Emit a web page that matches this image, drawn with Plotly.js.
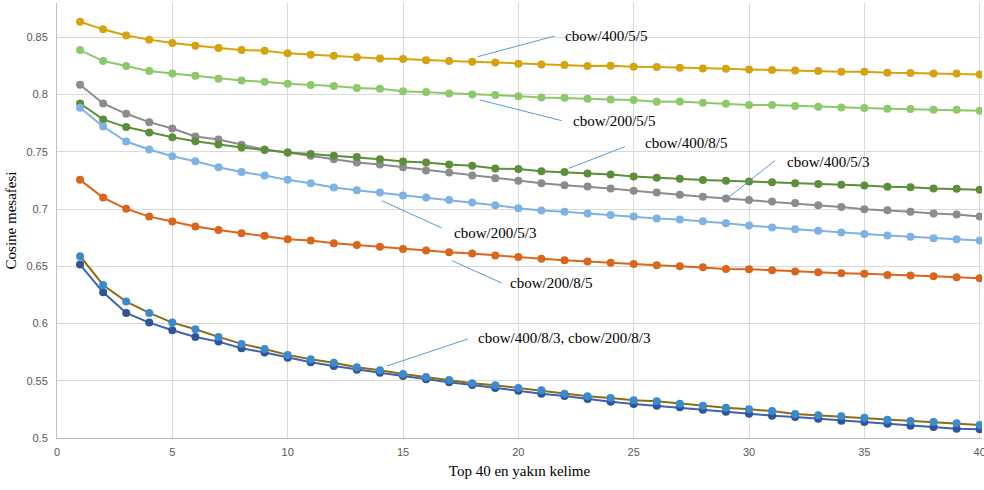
<!DOCTYPE html>
<html>
<head>
<meta charset="utf-8">
<script src="https://cdn.plot.ly/plotly-3.0.1.min.js"></script>
<style>html,body{margin:0;padding:0;background:#fff;}#chart{width:984px;height:490px;}</style>
</head>
<body>
<div id="chart"></div>
<script>
const ranks = Array.from({length: 40}, (_, i) => i + 1);

const cbow_400_5_5 = [0.8636,0.8570,0.8517,0.8480,0.8450,0.8427,0.8406,0.8390,0.8383,0.8360,0.8348,0.8340,0.8327,0.8316,0.8310,0.8300,0.8293,0.8287,0.8280,0.8270,0.8263,0.8258,0.8250,0.8252,0.8243,0.8241,0.8234,0.8228,0.8226,0.8220,0.8214,0.8211,0.8205,0.8200,0.8200,0.8190,0.8188,0.8185,0.8185,0.8176];
const cbow_200_5_5 = [0.8389,0.8293,0.8250,0.8205,0.8185,0.8164,0.8138,0.8123,0.8112,0.8094,0.8083,0.8074,0.8057,0.8051,0.8030,0.8022,0.8010,0.8000,0.7996,0.7986,0.7975,0.7972,0.7963,0.7957,0.7952,0.7937,0.7940,0.7928,0.7920,0.7908,0.7908,0.7900,0.7893,0.7887,0.7882,0.7876,0.7873,0.7867,0.7867,0.7858];
const cbow_400_5_3 = [0.8086,0.7922,0.7832,0.7759,0.7704,0.7634,0.7608,0.7561,0.7520,0.7494,0.7465,0.7436,0.7407,0.7389,0.7366,0.7337,0.7320,0.7293,0.7270,0.7247,0.7226,0.7209,0.7197,0.7180,0.7159,0.7144,0.7124,0.7107,0.7092,0.7078,0.7066,0.7052,0.7034,0.7017,0.6999,0.6990,0.6976,0.6961,0.6952,0.6934];
const cbow_400_8_5 = [0.7922,0.7783,0.7716,0.7669,0.7628,0.7593,0.7564,0.7538,0.7515,0.7494,0.7480,0.7465,0.7454,0.7436,0.7415,0.7407,0.7389,0.7378,0.7354,0.7349,0.7331,0.7323,0.7310,0.7302,0.7284,0.7273,0.7264,0.7253,0.7247,0.7241,0.7235,0.7226,0.7218,0.7212,0.7205,0.7194,0.7191,0.7180,0.7177,0.7168];
const cbow_200_5_3 = [0.7885,0.7721,0.7590,0.7520,0.7462,0.7418,0.7366,0.7323,0.7293,0.7255,0.7226,0.7188,0.7165,0.7144,0.7118,0.7100,0.7078,0.7057,0.7034,0.7008,0.6987,0.6976,0.6961,0.6949,0.6934,0.6917,0.6908,0.6894,0.6876,0.6856,0.6838,0.6824,0.6810,0.6795,0.6781,0.6769,0.6757,0.6746,0.6737,0.6725];
const cbow_200_8_5 = [0.7255,0.7100,0.7002,0.6934,0.6891,0.6847,0.6818,0.6789,0.6766,0.6737,0.6725,0.6702,0.6687,0.6670,0.6652,0.6637,0.6623,0.6611,0.6594,0.6582,0.6565,0.6553,0.6541,0.6530,0.6521,0.6510,0.6501,0.6492,0.6477,0.6475,0.6466,0.6454,0.6448,0.6440,0.6434,0.6425,0.6419,0.6413,0.6405,0.6396];
const cbow_400_8_3 = [0.6588,0.6337,0.6192,0.6093,0.6008,0.5950,0.5883,0.5822,0.5778,0.5726,0.5688,0.5658,0.5618,0.5592,0.5559,0.5533,0.5507,0.5478,0.5461,0.5437,0.5417,0.5387,0.5364,0.5350,0.5329,0.5320,0.5300,0.5282,0.5265,0.5251,0.5236,0.5210,0.5198,0.5190,0.5177,0.5160,0.5149,0.5140,0.5128,0.5114];
const cbow_200_8_3 = [0.6515,0.6273,0.6093,0.6008,0.5941,0.5883,0.5842,0.5784,0.5746,0.5702,0.5662,0.5629,0.5597,0.5571,0.5542,0.5513,0.5487,0.5463,0.5437,0.5413,0.5387,0.5367,0.5341,0.5317,0.5297,0.5282,0.5268,0.5247,0.5230,0.5212,0.5195,0.5184,0.5169,0.5151,0.5140,0.5125,0.5108,0.5096,0.5081,0.5076];

const seriesNames = ["cbow/400/5/5","cbow/200/5/5","cbow/400/5/3","cbow/400/8/5","cbow/200/5/3","cbow/200/8/5","cbow/200/8/3","cbow/400/8/3"];
const xTitle = "Top 40 en yakın kelime";
const yTitle = "Cosine mesafesi";

function tr(name, y, lineColor, markerColor) {
  return {
    type: 'scatter', mode: 'lines+markers', name: name, x: ranks, y: y,
    line: {color: lineColor, width: 2},
    marker: {color: markerColor, size: 8},
    showlegend: false, hoverinfo: 'x+y+name'
  };
}

const data = [
  tr(seriesNames[0], cbow_400_5_5, '#D5A30E', '#D5A30E'),
  tr(seriesNames[1], cbow_200_5_5, '#8DC86A', '#8DC86A'),
  tr(seriesNames[2], cbow_400_5_3, '#8C8C8C', '#8C8C8C'),
  tr(seriesNames[3], cbow_400_8_5, '#5B8F38', '#5B8F38'),
  tr(seriesNames[4], cbow_200_5_3, '#7EB2E4', '#7EB2E4'),
  tr(seriesNames[5], cbow_200_8_5, '#D9661C', '#D9661C'),
  tr(seriesNames[6], cbow_200_8_3, '#3D62B0', '#2F5597'),
  tr(seriesNames[7], cbow_400_8_3, '#8C6D14', '#3A8AD1')
];

const serif = 'Liberation Serif, Times New Roman, serif';
const labelFont = {family: serif, size: 15, color: '#000'};
const leader = {color: '#5B9BD5', width: 1};

// label layout: [text, line x0, y0, x1, y1, text x, text y]
const labels = [
  ['cbow/400/5/5', 18.24, 0.8331, 21.58, 0.8512, 21.93, 0.8512],
  ['cbow/200/5/5', 18.33, 0.7953, 21.88, 0.7772, 22.28, 0.7769],
  ['cbow/400/8/5', 22.19, 0.7356, 24.62, 0.7545, 25.40, 0.7577],
  ['cbow/400/5/3', 29.08, 0.7097, 31.12, 0.7423, 31.55, 0.7414],
  ['cbow/200/5/3', 14.08, 0.7073, 16.68, 0.6835, 17.12, 0.6791],
  ['cbow/200/8/5', 17.12, 0.6549, 19.28, 0.6354, 19.55, 0.6357],
  ['cbow/400/8/3, cbow/200/8/3', 14.30, 0.5629, 17.81, 0.5865, 18.16, 0.5874]
];

const shapes = labels.map(l => ({type: 'line', xref: 'x', yref: 'y', x0: l[1], y0: l[2], x1: l[3], y1: l[4], line: leader}));
const annotations = labels.map(l => ({xref: 'x', yref: 'y', x: l[5], y: l[6], text: l[0], showarrow: false, xanchor: 'left', yanchor: 'middle', font: labelFont}));

const tickFont = {family: 'Liberation Sans, Arial, sans-serif', size: 11, color: '#595959'};

const layout = {
  width: 984, height: 490,
  margin: {l: 57, r: 2, t: 3, b: 52},
  paper_bgcolor: '#fff', plot_bgcolor: '#fff',
  xaxis: {
    range: [0, 40.1], tickvals: [0, 5, 10, 15, 20, 25, 30, 35, 40],
    showgrid: true, gridcolor: '#D9D9D9', gridwidth: 1,
    zeroline: false, showline: true, linecolor: '#BFBFBF', linewidth: 1,
    ticks: '', tickfont: tickFont, ticklabelstandoff: 4, ticklabeloverflow: 'allow',
    title: {text: xTitle, font: {family: serif, size: 15, color: '#000'}, standoff: 8},
    automargin: false
  },
  yaxis: {
    range: [0.5, 0.88], dtick: 0.05, tick0: 0.5,
    showgrid: true, gridcolor: '#D9D9D9', gridwidth: 1,
    zeroline: false, showline: true, linecolor: '#BFBFBF', linewidth: 1,
    ticks: '', tickfont: tickFont, ticklabelstandoff: 6,
    title: {text: yTitle, font: {family: serif, size: 15, color: '#000'}, standoff: 6},
    automargin: false
  },
  shapes: shapes,
  annotations: annotations
};

Plotly.newPlot('chart', data, layout, {displayModeBar: false, staticPlot: true});
</script>
</body>
</html>
